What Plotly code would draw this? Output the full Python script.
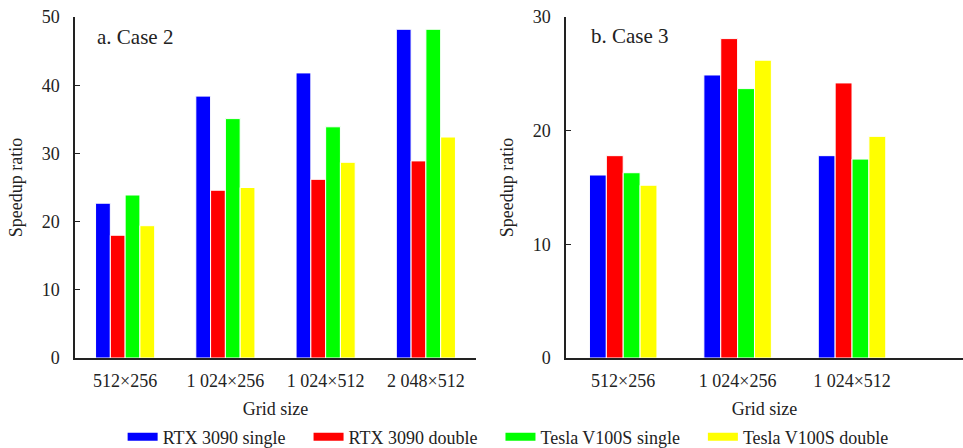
import plotly.graph_objects as go

# ---- data ----
cats_a = ["512\u00d7256", "1 024\u00d7256", "1 024\u00d7512", "2 048\u00d7512"]
cats_b = ["512\u00d7256", "1 024\u00d7256", "1 024\u00d7512"]

series_names = ["RTX 3090 single", "RTX 3090 double", "Tesla V100S single", "Tesla V100S double"]
series_colors = ["#0000FF", "#FF0000", "#00FF00", "#FFFF00"]

case2_rtx_single = [22.7, 38.4, 41.8, 48.2]
case2_rtx_double = [18.0, 24.6, 26.2, 28.9]
case2_v100_single = [23.9, 35.1, 33.9, 48.2]
case2_v100_double = [19.4, 25.0, 28.7, 32.4]

case3_rtx_single = [16.1, 24.9, 17.8]
case3_rtx_double = [17.8, 28.1, 24.2]
case3_v100_single = [16.3, 23.7, 17.5]
case3_v100_double = [15.2, 26.2, 19.5]

case2 = [case2_rtx_single, case2_rtx_double, case2_v100_single, case2_v100_double]
case3 = [case3_rtx_single, case3_rtx_double, case3_v100_single, case3_v100_double]

yticks_a = [0, 10, 20, 30, 40, 50]
yticks_b = [0, 10, 20, 30]

FONT = "Liberation Serif"
fig = go.Figure()

for name, color, vals in zip(series_names, series_colors, case2):
    fig.add_trace(go.Bar(x=cats_a, y=vals, name=name, marker=dict(color=color, line=dict(color="white", width=1)),
                         xaxis="x", yaxis="y", showlegend=False))
for name, color, vals in zip(series_names, series_colors, case3):
    fig.add_trace(go.Bar(x=cats_b, y=vals, name=name, marker=dict(color=color, line=dict(color="white", width=1)),
                         xaxis="x2", yaxis="y2", showlegend=False))
# legend entries (flat swatches)
for name, color in zip(series_names, series_colors):
    fig.add_trace(go.Scatter(x=[None], y=[None], mode="lines", name=name + "\u00a0" * 4,
                             line=dict(color=color, width=8), xaxis="x", yaxis="y"))

axis_common = dict(showline=True, linecolor="#222", linewidth=1.5, showgrid=False, zeroline=False,
                   automargin=False, tickfont=dict(family=FONT, size=18, color="#222"))

fig.update_layout(
    template="none",
    width=963, height=448,
    margin=dict(l=0, r=0, t=0, b=0, autoexpand=False),
    paper_bgcolor="white", plot_bgcolor="white",
    font=dict(family=FONT, size=18, color="#222"),
    barmode="group", bargap=0.41, bargroupgap=0,
    xaxis=dict(domain=[75/963, 476/963], range=[-0.5, 3.5], anchor="y", ticks="",
               ticklabelstandoff=6,
               title=dict(text="Grid size", standoff=12, font=dict(family=FONT, size=18)), **axis_common),
    yaxis=dict(domain=[1-358/448, 1-17/448], range=[0, 50], anchor="x", tickvals=yticks_a,
               ticks="inside", ticklen=5, tickcolor="#222", ticklabelstandoff=10,
               title=dict(text="Speedup ratio", standoff=14, font=dict(family=FONT, size=18)), **axis_common),
    xaxis2=dict(domain=[566/963, 1.0], range=[-0.5, 2.97], anchor="y2", ticks="",
                ticklabelstandoff=6,
                title=dict(text="Grid size", standoff=12, font=dict(family=FONT, size=18)), **axis_common),
    yaxis2=dict(domain=[1-358/448, 1-17/448], range=[0, 30], anchor="x2", tickvals=yticks_b,
                ticks="inside", ticklen=5, tickcolor="#222", ticklabelstandoff=10,
                title=dict(text="Speedup ratio", standoff=14, font=dict(family=FONT, size=18)), **axis_common),
    legend=dict(orientation="h", x=0.537, xanchor="center", y=1-437/448, yanchor="middle",
                font=dict(family=FONT, size=18, color="#222"), bgcolor="rgba(0,0,0,0)",
                tracegroupgap=0, itemwidth=30),
    annotations=[
        dict(text="a. Case 2", xref="paper", yref="paper", x=95/963, y=1-37/448, xanchor="left",
             yanchor="middle", showarrow=False, font=dict(family=FONT, size=21, color="#222")),
        dict(text="b. Case 3", xref="paper", yref="paper", x=589/963, y=1-36/448, xanchor="left",
             yanchor="middle", showarrow=False, font=dict(family=FONT, size=21, color="#222")),
    ],
)

fig.write_html("out.html", config={"displayModeBar": False},
               post_script="document.body.style.margin='0';document.body.style.padding='0';document.body.style.overflow='hidden';")
